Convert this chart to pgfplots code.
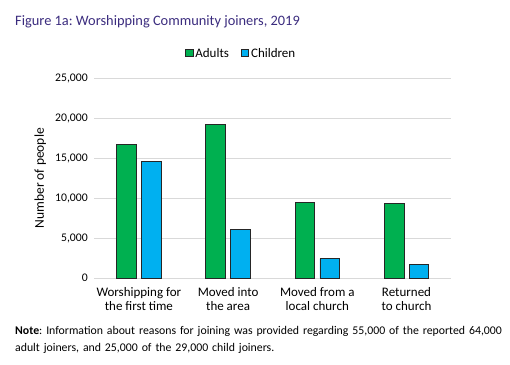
\documentclass[border=0pt]{standalone}
\usepackage{fontspec}
\setmainfont{Carlito}
\usepackage{pgfplots}
\pgfplotsset{compat=1.18}
\definecolor{xgreen}{HTML}{00B050}
\definecolor{xblue}{HTML}{00B0F0}
\definecolor{titlec}{HTML}{3B2C7E}
\definecolor{gridc}{HTML}{D9D9D9}
\frenchspacing
\begin{document}
\begin{tikzpicture}[x=1pt,y=1pt]
\path (0,0) rectangle (510,365);
\node[anchor=west, text=titlec, font=\fontsize{14.4}{16}\selectfont, inner sep=0pt] at (15,343) {Figure 1a: Worshipping Community joiners, 2019};
\begin{axis}[
  at={(94.3pt,86.7pt)}, anchor=south west,
  scale only axis, width=357pt, height=200pt,
  ymin=0, ymax=25000, xmin=-0.5, xmax=3.5,
  ybar, bar width=19.6pt,
  ytick={0,5000,10000,15000,20000,25000},
  scaled y ticks=false,
  /pgf/number format/.cd, 1000 sep={,}, assume math mode=true, /pgfplots/.cd,
  ymajorgrids, grid style={gridc, line width=0.8pt},
  axis y line*=left, y axis line style={draw=none},
  axis x line*=bottom,
  x axis line style={gridc, line width=0.8pt, -},
  xtick=data, xtick style={draw=none}, ytick style={draw=none},
  xticklabels={{Worshipping for\\the first time},{Moved into\\the area},{Moved from a\\local church},{Returned\\to church}},
  xticklabel style={align=center, font=\fontsize{13}{14}\selectfont, yshift=-1pt},
  yticklabel style={font=\fontsize{11.7}{13}\selectfont, xshift=-3pt},
  ylabel={Number of people},
  ylabel style={at={(axis description cs:-0.151,0.5)}, anchor=center, font=\fontsize{13.5}{15}\selectfont},
  legend style={at={(axis description cs:0.412,1.125)}, anchor=center, draw=none, legend columns=2, font=\fontsize{13}{14}\selectfont, /tikz/every even column/.append style={column sep=10pt}, inner sep=0pt},
  legend image code/.code={\draw[#1, draw=black!85, line width=0.6pt] (0pt,-3.5pt) rectangle (7.5pt,3.5pt);},
]
\addplot[fill=xgreen, draw=black!85, line width=0.8pt, bar shift=-12.4pt] coordinates {(0,16750) (1,19200) (2,9500) (3,9400)};
\addplot[fill=xblue, draw=black!85, line width=0.8pt, bar shift=12.4pt] coordinates {(0,14650) (1,6050) (2,2450) (3,1700)};
\legend{Adults, Children}
\end{axis}
\node[anchor=north west, inner sep=0pt, text width=495pt, font=\fontsize{11.8}{17}\selectfont, align=left] at (15,39) {\textbf{Note}: Information about reasons for joining was provided regarding 55,000 of the reported 64,000\\adult joiners, and 25,000 of the 29,000 child joiners.};
\end{tikzpicture}
\end{document}
